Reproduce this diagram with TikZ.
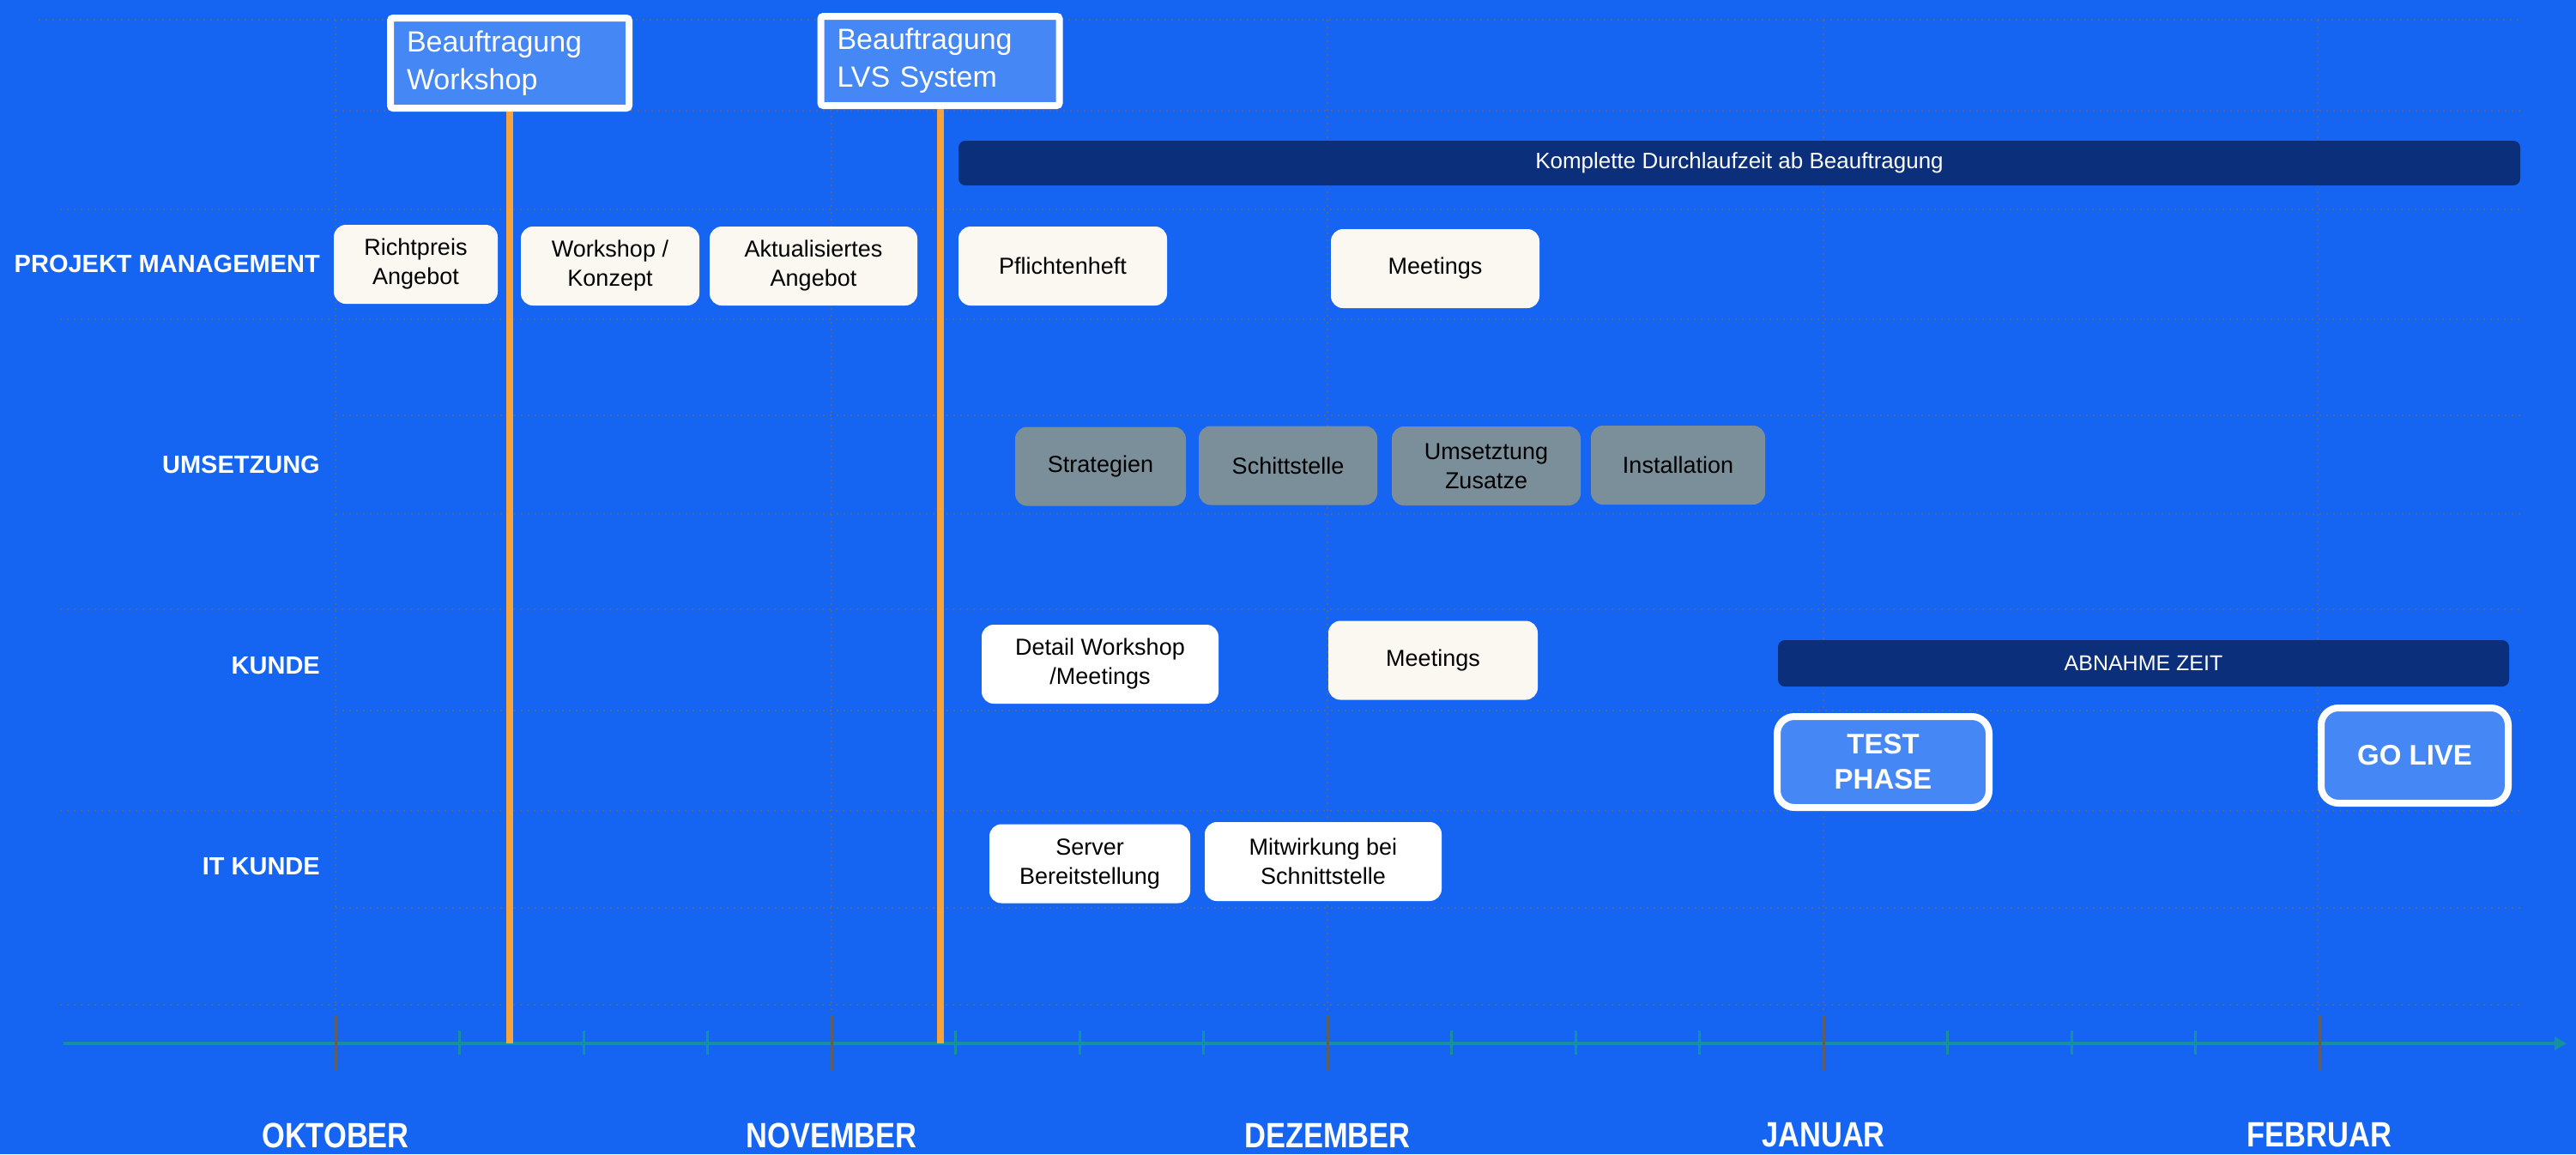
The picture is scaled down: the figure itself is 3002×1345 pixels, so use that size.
\documentclass[tikz,border=0pt]{standalone}
\usepackage{fontspec}
\setmainfont{Liberation Sans}
\newfontfamily\condfont{Liberation Sans}[FakeStretch=0.84]
\usetikzlibrary{arrows.meta,shadows}
\definecolor{tlbg}{HTML}{1565F2}
\definecolor{tldark}{HTML}{0B2F7A}
\definecolor{tlblue}{HTML}{4587F4}
\definecolor{tlcream}{HTML}{FBF8F1}
\definecolor{tlgray}{HTML}{7A8F9A}
\definecolor{tlorange}{HTML}{F5A33B}
\definecolor{tlteal}{HTML}{14919C}
\definecolor{tlgrid}{HTML}{5C6880}
\definecolor{tltick}{HTML}{5E5E66}

\begin{document}
\begin{tikzpicture}[x=1pt,y=-1pt,
  card/.style={rounded corners=14pt,fill=tlcream,align=center,inner sep=0pt,
    font=\fontsize{27}{34}\selectfont,text=black,minimum height=92pt},
  whitecard/.style={card,fill=white},
  graycard/.style={card,fill=tlgray},
  bar/.style={rounded corners=8pt,fill=tldark,text=white,inner sep=0pt,
    font=\fontsize{26}{30}\selectfont},
  order/.style={draw=white,line width=8pt,fill=tlblue,rounded corners=3pt,text=white,
    align=left,inner xsep=19pt,inner ysep=0pt,text width=240pt,
    font=\fontsize{34}{44}\selectfont,
    drop shadow={opacity=.25,shadow xshift=2pt,shadow yshift=-4pt}},
  milestone/.style={draw=white,line width=8pt,fill=tlblue,rounded corners=20pt,text=white,
    align=center,inner sep=0pt,font=\fontsize{33}{41}\selectfont\bfseries,
    drop shadow={opacity=.25,shadow xshift=2pt,shadow yshift=-4pt}},
  lane/.style={anchor=east,inner sep=0pt,text=white,font=\fontsize{29}{34}\selectfont\bfseries},
  month/.style={inner sep=0pt,text=white,font=\fontsize{41}{46}\selectfont\condfont\bfseries},
  gridline/.style={tlgrid,line width=2pt,dash pattern=on 2pt off 6pt},
  axis/.style={tlteal,line width=4pt,-{Triangle[length=14pt,width=15pt]}},
  major/.style={tltick,line width=3pt},
  minor/.style={tlteal,line width=3pt},
  pin/.style={tlorange,line width=8pt}]

  % background and frame
  \fill[tlbg] (0,0) rectangle (3002,1345);
  \useasboundingbox (0,0) rectangle (3002,1345);

  % grid
  \foreach \x in {391,969,1547,2125,2701}
    \draw[gridline] (\x,23) -- (\x,1180);
  \foreach \y/\from in {23/45,129/391,244/70,372/70,484/391,599/391,710/70,828/391,945/70,1058/391,1171/70}
    \draw[gridline] (\from,\y) -- (2940,\y);

  % time axis
  \coordinate (axl) at (74,1216);
  \coordinate (axr) at (2991,1216);
  \draw[axis] (axl) -- (axr);
  \foreach \m in {0,...,4}
    \draw[major] ({391+578*\m},1183) -- ++(0,64);
  \foreach \k in {1,2,3,5,6,7,9,10,11,13,14,15}
    \draw[minor] ({391+144.5*\k},1201) -- ++(0,28);
  \foreach \name [count=\i from 0] in {OKTOBER,NOVEMBER,DEZEMBER,JANUAR,FEBRUAR}
    \node[month] (month\i) at ({391+578*\i},1323) {\name};

  % lanes
  \node[lane] (lanepm) at (373,308) {PROJEKT MANAGEMENT};
  \node[lane] (laneum) at (373,542) {UMSETZUNG};
  \node[lane] (laneku) at (373,776) {KUNDE};
  \node[lane] (laneit) at (373,1010) {IT KUNDE};

  % projekt management
  \node[card,minimum width=191pt] (richtpreis) at (484.5,308) {Richtpreis\\Angebot};
  \node[card,minimum width=208pt] (konzept) at (711,310) {Workshop /\\Konzept};
  \node[card,minimum width=242pt] (aktual) at (948,310) {Aktualisiertes\\Angebot};
  \node[card,minimum width=243pt] (pflicht) at (1238.5,310) {Pflichtenheft};
  \node[card,minimum width=243pt] (meetpm) at (1672.5,313) {Meetings};
  \node[bar,minimum width=1820pt,minimum height=52pt] (durchlauf) at (2027,190)
    {Komplette Durchlaufzeit ab Beauftragung};

  % umsetzung
  \node[graycard,minimum width=199pt] (strat) at (1282.5,543.5) {Strategien};
  \node[graycard,minimum width=208pt] (schitt) at (1501,542.5) {Schittstelle};
  \node[graycard,minimum width=220pt] (zusatz) at (1732,543) {Umsetztung\\Zusatze};
  \node[graycard,minimum width=203pt] (install) at (1955.5,542) {Installation};

  % kunde
  \node[whitecard,minimum width=276pt] (detail) at (1282,774) {Detail Workshop\\/Meetings};
  \node[card,minimum width=244pt] (meetku) at (1670,769.5) {Meetings};
  \node[bar,minimum width=852pt,minimum height=54pt,font=\fontsize{25}{30}\selectfont]
    (abnahme) at (2498,773) {ABNAHME ZEIT};
  \node[milestone,minimum width=247pt,minimum height=106pt] (test) at (2194.5,888) {TEST\\PHASE};
  \node[milestone,minimum width=218pt,minimum height=111pt] (golive) at (2814,880.5) {GO LIVE};

  % it kunde
  \node[whitecard,minimum width=234pt] (server) at (1270,1006.5) {Server\\Bereitstellung};
  \node[whitecard,minimum width=276pt] (mitwirk) at (1542,1004) {Mitwirkung bei\\Schnittstelle};

  % beauftragungen
  \node[order,minimum height=105pt] (ordws) at (594,73.5) {Beauftragung\\Workshop};
  \node[order,minimum height=104pt] (ordlvs) at (1095.5,71) {Beauftragung\\LVS System};
  \draw[pin] (ordws.south) -- (ordws.south |- axl);
  \draw[pin] (ordlvs.south) -- (ordlvs.south |- axl);
\end{tikzpicture}
\end{document}
